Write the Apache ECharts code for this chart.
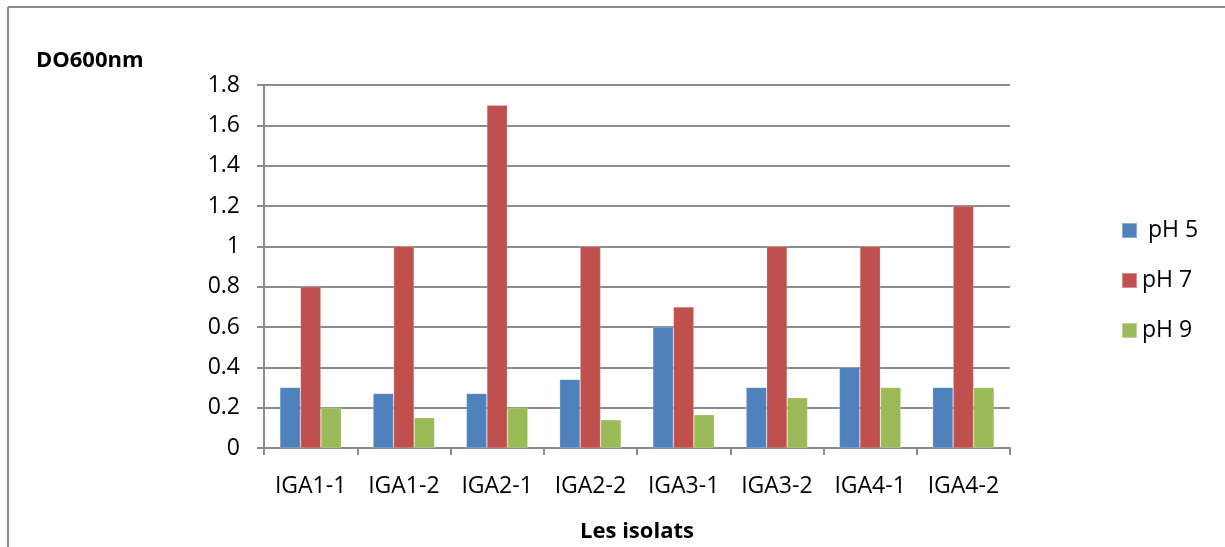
<!DOCTYPE html>
<html>
<head>
<meta charset="utf-8">
<script src="https://cdn.jsdelivr.net/npm/echarts@6/dist/echarts.min.js"></script>
<style>
  html, body { margin: 0; padding: 0; background: #fff; }
  #chart { width: 1225px; height: 547px; }
</style>
</head>
<body>
<div id="chart"></div>
<script>
// Optical density (600 nm) of each isolate grown at three pH values
const isolates = ['IGA1-1', 'IGA1-2', 'IGA2-1', 'IGA2-2', 'IGA3-1', 'IGA3-2', 'IGA4-1', 'IGA4-2'];
const ph5 = [0.30, 0.27, 0.27, 0.34, 0.60, 0.30, 0.40, 0.30];
const ph7 = [0.80, 1.00, 1.70, 1.00, 0.70, 1.00, 1.00, 1.20];
const ph9 = [0.20, 0.15, 0.20, 0.14, 0.165, 0.25, 0.30, 0.30];
const seriesNames = [' pH 5', 'pH 7', 'pH 9'];
const seriesColors = ['#4F81BD', '#C0504D', '#9BBB59'];

const FONT = 'Open Sans';
const GRID_COLOR = '#8C8C8C';

const chart = echarts.init(document.getElementById('chart'), null, { renderer: 'canvas' });

const makeSeries = (name, data, color) => ({
  name,
  type: 'bar',
  data,
  barGap: '0%',
  barCategoryGap: '34%',
  itemStyle: { color, borderColor: 'rgba(255,255,255,0.35)', borderWidth: 0.6 }
});

chart.setOption({
  animation: false,
  textStyle: { fontFamily: FONT },
  title: {
    text: 'DO600nm',
    left: 31,
    top: 45,
    textStyle: { fontFamily: FONT, fontWeight: 'bold', fontSize: 22, color: '#000' }
  },
  legend: {
    orient: 'vertical',
    left: 1121,
    top: 219,
    padding: 0,
    itemWidth: 15,
    itemHeight: 15,
    itemGap: 27,
    icon: 'rect',
    textStyle: { fontFamily: FONT, fontSize: 23, color: '#000' },
    data: seriesNames
  },
  grid: {
    left: 264, right: 215, top: 85, bottom: 99,
    containLabel: false,
    outerBoundsMode: 'none'
  },
  xAxis: {
    type: 'category',
    data: isolates,
    name: 'Les isolats',
    nameLocation: 'middle',
    nameGap: 73,
    nameTextStyle: { fontFamily: FONT, fontWeight: 'bold', fontSize: 22, color: '#000' },
    axisLine: { show: true, lineStyle: { color: GRID_COLOR, width: 2 } },
    axisTick: { show: true, alignWithLabel: false, length: 7, lineStyle: { color: GRID_COLOR, width: 2 } },
    axisLabel: { fontFamily: FONT, fontSize: 23, color: '#000', margin: 27 },
    splitLine: { show: false }
  },
  yAxis: {
    type: 'value',
    min: 0,
    max: 1.8,
    interval: 0.2,
    axisLine: { show: true, lineStyle: { color: GRID_COLOR, width: 2 } },
    axisTick: { show: true, length: 7, lineStyle: { color: GRID_COLOR, width: 2 } },
    axisLabel: {
      fontFamily: FONT, fontSize: 23, color: '#000', margin: 24,
      formatter: v => String(Math.round(v * 10) / 10)
    },
    splitLine: { show: true, lineStyle: { color: GRID_COLOR, width: 2 } }
  },
  graphic: [
    { type: 'line', shape: { x1: 8, y1: 7, x2: 1225, y2: 7 }, style: { stroke: '#8C8C8C', lineWidth: 2 } },
    { type: 'line', shape: { x1: 8, y1: 7, x2: 8, y2: 547 }, style: { stroke: '#8C8C8C', lineWidth: 2 } }
  ],
  series: [
    makeSeries(seriesNames[0], ph5, seriesColors[0]),
    makeSeries(seriesNames[1], ph7, seriesColors[1]),
    makeSeries(seriesNames[2], ph9, seriesColors[2])
  ]
});
</script>
</body>
</html>
